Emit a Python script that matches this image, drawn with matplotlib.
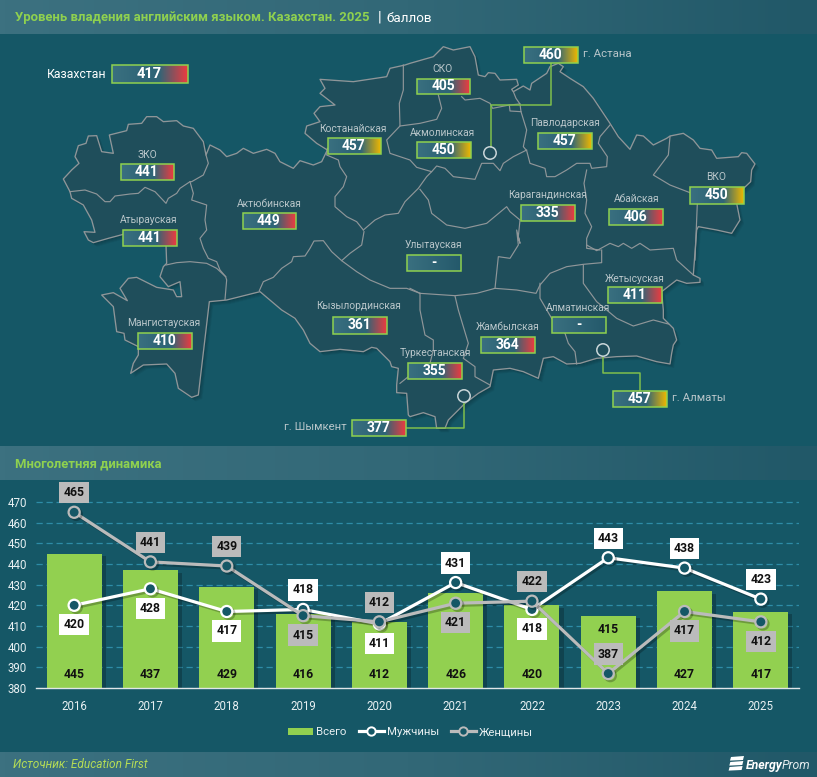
import numpy as np
import matplotlib
matplotlib.use('Agg')
import matplotlib.pyplot as plt
from matplotlib.colors import LinearSegmentedColormap
from matplotlib.patches import Polygon, Rectangle, Circle
from matplotlib.lines import Line2D
import matplotlib.patheffects as pe

plt.rcParams['font.family'] = ['Roboto', 'DejaVu Sans']

# ---------- data ----------
years = [2016, 2017, 2018, 2019, 2020, 2021, 2022, 2023, 2024, 2025]
total = [445, 437, 429, 416, 412, 426, 420, 415, 427, 417]
men = [420, 428, 417, 418, 411, 431, 418, 443, 438, 423]
women = [465, 441, 439, 415, 412, 421, 422, 387, 417, 412]
men_side = [-1, -1, -1, 1, -1, 1, -1, 1, 1, 1]
women_side = [1, 1, 1, -1, 1, -1, 1, 1, -1, -1]

region_names = ['ЗКО', 'Костанайская', 'Актюбинская', 'Атырауская', 'СКО', 'Акмолинская', 'Павлодарская', 'ВКО',
                'Абайская', 'Карагандинская', 'Улытауская', 'Мангистауская', 'Кызылординская', 'Туркестанская',
                'Жамбылская', 'Алматинская', 'Жетысуская']
region_values = ['441', '457', '449', '441', '405', '450', '457', '450',
                 '406', '335', '-', '410', '361', '355', '364', '-', '411']
city_names = ['г. Астана', 'г. Алматы', 'г. Шымкент']
city_values = ['460', '457', '377']
country_name = 'Казахстан'
country_value = '417'

def z(x0, y0, pts):
    return [(x0 + a / 3, y0 + b / 3) for a, b in pts]

outer = (
    z(0, 0, [(190,537),(215,510),(237,490),(225,470),(235,437),(258,430),(265,408),(290,407),(305,455),(340,460),(328,405),
             (380,392),(385,373),(425,370),(440,350),(470,350),(490,365),(530,362),(550,378),(580,385),(610,425),(618,465),
             (630,435),(660,450),(680,470),(710,460),(730,445),(760,460),(800,448),(825,460),(840,485),(880,505),(900,482),
             (940,495),(965,485),(982,450),(950,430),(915,400),(920,378),(960,365),(942,340),(960,320),(1005,315),(960,280),
             (975,265),(960,238),(1060,245),(1160,230),(1170,205),(1215,195)])
    + z(410, 30, [(0,100),(70,80),(100,50),(130,60),(180,50),(195,80),(205,135),(225,140),(235,128),(255,130),(270,150),
                  (320,148),(325,165),(305,178),(310,185),(340,168),(360,180),(365,160),(410,130),(420,110),(445,100),(460,110),
                  (450,125),(480,145),(520,170),(550,205),(600,280),(625,320),(660,358),(680,315),(700,318),(730,345),(770,325),
                  (780,318),(820,310),(850,330),(870,355),(905,360),(920,385),(985,380),(995,368),(1010,370),(1035,402),(1025,420),
                  (1022,455),(985,490),(980,520),(990,570),(965,610),(920,600),(865,590)])
    + z(410, 230, [(860,0),(850,135),(870,145),(870,157),(830,160),(800,150),(755,185),(760,240),(760,265),(775,280),(790,295),
                   (800,330),(790,345),(785,370),(780,402),(740,395),(680,378),(620,380),(560,385),(510,400),(470,402),(430,380),
                   (400,385),(385,445),(340,425),(300,415),(250,420),(240,470),(205,490),(165,520),(115,570),(105,595),(80,595),
                   (75,560),(40,548),(0,560)])
    + z(0, 230, [(1225,555),(1220,490),(1190,488),(1190,465),(1195,415),(1175,410),(1170,395),(1130,355),(1115,352),(1090,365),
                 (1020,358),(960,365),(930,340),(910,300),(885,265),(845,240),(780,185),(680,210),(628,215),(595,495),(575,502),
                 (535,475),(525,430),(500,402),(430,405),(392,430),(400,400),(415,375),(415,350),(375,330),(372,310),(350,305),
                 (340,230),(305,195),(340,188),(382,212),(360,175),(385,145),(410,142),(470,172),(520,180),(530,200),(545,200),
                 (540,155),(505,170),(480,140),(490,110),(500,100)])
    + z(60, 170, [(318,225),(190,193),(145,205),(100,218),(85,210),(72,185),(105,187),(95,150),(70,105),(35,85),(30,65)])
)

borders = [
    z(60,170,[(30,65),(75,60),(110,72),(135,95),(150,95),(165,78),(210,72),(235,70),(255,52),(285,65),(318,100),(325,85),(350,70),(360,55),(390,35)]) + z(0,0,[(575,545),(610,525),(625,490),(618,465)]),
    z(60,170,[(390,35),(400,70),(395,90),(440,105),(435,150),(440,180),(420,205),(430,235),(445,265),(470,275),(480,300),(497,320)]) + z(190,200,[(110,240),(105,298)]),
    z(60,170,[(318,285),(350,278),(390,275),(440,280),(470,295),(497,320)]),
    z(310,60,[(52,265),(50,285),(85,300),(90,320),(110,350),(100,380),(75,410),(75,440),(110,470),(140,485),(160,510)]),
    z(190,200,[(208,272),(220,245),(250,232),(275,205),(305,185),(310,170),(345,168),(360,145),(372,123),(400,122),(425,155),(455,182),(480,160),(515,135),(522,95)]),
    z(310,60,[(160,510),(195,480),(225,465),(265,460),(285,425),(325,385),(350,350),(365,335),(320,322),(300,300),(240,280),(230,240),(270,198),(268,130),(280,90),(280,15)]),
    z(310,60,[(270,198),(330,190),(380,178),(395,145),(385,105)]),
    z(410,30,[(155,200),(165,210),(210,205),(240,220),(248,235),(298,225),(330,222),(318,205),(310,185)]),
    z(410,30,[(298,225),(300,243),(333,245),(330,222)]),
    z(410,30,[(333,245),(350,300),(340,350),(350,362),(360,400),(405,415),(410,440),(435,440),(470,420),(500,400),(540,400),(545,415),(590,410),(592,380),(565,340),(570,320),(600,285)]),
    z(310,60,[(650,270),(610,290),(580,310),(570,332),(550,310),(515,310),(495,358),(430,350),(405,325),(380,318),(365,335)]),
    z(410,30,[(530,420),(522,460),(530,510),(525,550),(545,590),(530,625),(530,655),(570,660)]),
    z(410,230,[(530,45),(560,62),(600,40),(625,50),(640,40),(665,55),(690,40),(720,60),(790,55),(800,90),(850,135)]),
    z(410,230,[(575,60),(575,98),(520,103),(470,110),(420,130),(390,165),(378,190),(320,180),(255,175),(200,190),(135,197),(30,190),(0,175)]),
    z(410,230,[(255,175),(265,80),(300,85),(325,45),(320,0)]) + z(410,30,[(330,640),(325,620),(330,570),(300,545),(290,530),(230,580),(165,595),(110,585),(65,550),(55,510),(30,478)]),
    z(190,200,[(455,182),(500,215),(540,240),(600,265),(650,265),(690,280)]),
    z(400,220,[(165,228),(175,270),(205,370),(190,415),(225,440),(225,470),(270,495)]),
    z(400,220,[(60,220),(60,270),(75,345),(100,360),(100,390),(90,430)]),
    z(400,220,[(25,470),(0,490)]),
    z(400,220,[(420,190),(420,235),(455,295),(495,340),(505,370),(525,395),(530,432)]),
    z(400,220,[(550,135),(550,190),(590,245),(650,295),(700,318),(760,300)]) + z(410,230,[(775,282)]),
    z(410,30,[(780,320),(775,375),(730,435),(780,465),(840,488),(862,520),(855,690)]),
]

# ---------- figure ----------
W, H = 817, 777
SEA = '#155766'
GREEN = '#8FD14F'
fig = plt.figure(figsize=(W / 100, H / 100), dpi=100, facecolor=SEA)
ov = fig.add_axes([0, 0, 1, 1], zorder=0)
ov.set_axis_off()

def hgrad(x0, x1, y0, y1, cols, stops=None, zorder=1):
    if stops is None:
        cm = LinearSegmentedColormap.from_list('g', cols)
    else:
        cm = LinearSegmentedColormap.from_list('g', list(zip(stops, cols)))
    ov.imshow(np.linspace(0, 1, 256).reshape(1, -1), extent=(x0, x1, y1, y0), aspect='auto', cmap=cm,
              zorder=zorder, interpolation='bilinear')

# panels
panel = ['#3C7180', '#326877', '#215868']
hgrad(0, W, 0, 34, panel)
hgrad(0, W, 446, 480, panel)
hgrad(0, W, 752, H, panel)

# map
for k in range(1, 6):
    ov.add_patch(Polygon(np.array(outer) + k * 0.8, closed=True, fc='black', ec='none', alpha=0.05, zorder=2))
ov.add_patch(Polygon(outer, closed=True, fc='#1F4E5B', ec='#8F9699', lw=0.95, zorder=3, joinstyle='round'))
for b in borders:
    ov.plot(*zip(*b), color='#8F9699', lw=0.85, zorder=4, solid_joinstyle='round')

# connectors
for path in ([(551, 63), (551, 105), (491, 105), (491, 147)],
             [(603, 357), (603, 373), (640, 373), (640, 391)],
             [(464, 403), (464, 428), (406, 428)]):
    ov.plot(*zip(*path), color='#7FBF4C', lw=1.1, zorder=5)
for c in [(490, 153), (603, 350), (464, 396)]:
    ov.add_patch(Circle(c, 6.2, fc='none', ec='#C9D6D9', lw=1.1, zorder=5))

# badges
RED = '#EF3B3F'
YEL = '#F0B800'
def badge(x0, y0, w, h, val, fs=10):
    if val == '-':
        cols, st = ['#3A7080', '#24596B'], [0, 1]
    else:
        end = YEL if int(val) >= 450 else RED
        cols, st = ['#3A7080', '#2F6577', '#2F6577', end], [0, 0.42, 0.62, 1]
    hgrad(x0, x0 + w, y0, y0 + h, cols, st, zorder=6)
    ov.add_patch(Rectangle((x0, y0), w, h, fc='none', ec=GREEN, lw=1.1, zorder=7))
    ov.text(x0 + w / 2 - 0.5, y0 + h / 2 - 0.3, val, color='white', fontsize=fs, fontweight='bold',
            ha='center', va='center', zorder=8)

badge_boxes = [(121,164,53,16), (328,138,53,16), (243,213,53,16), (123,230,54,16), (417,79,53,15), (417,142,54,16),
               (538,133,54,16), (690,187,54,17), (609,209,54,16), (521,205,54,16), (407,255,54,16), (138,333,54,16),
               (333,317,54,17), (408,363,54,16), (481,337,54,16), (552,317,54,16), (608,287,54,16)]
label_xy = [(147,155),(353,129),(269,204),(149,220),(443,69),(443,133),(565,123),(716,177),(637,199),(548,195),
            (433,245),(164,323),(359,306),(435,353),(508,327),(578,308),(635,279)]
for name, val, box, xy in zip(region_names, region_values, badge_boxes, label_xy):
    badge(*box, val)
    ov.text(*xy, name, color='#B9C6CA', fontsize=7.4, ha='center', va='center', zorder=8)

city_boxes = [(524,47,54,16), (613,391,54,16), (352,420,54,16)]
city_text = [(583,54,'left'), (672,398,'left'), (347,427,'right')]
for name, val, box, (tx, ty, ha) in zip(city_names, city_values, city_boxes, city_text):
    badge(*box, val)
    ov.text(tx, ty, name, color='#B9C6CA', fontsize=8.2, ha=ha, va='center', zorder=8)

badge(112, 65, 76, 18, country_value, fs=10.5)
ov.text(47, 74, country_name, color='white', fontsize=8.8, ha='left', va='center', zorder=8)

# titles
t = ov.text(15, 18, 'Уровень владения английским языком. Казахстан. 2025', color=GREEN, fontsize=9.45, fontweight='bold',
            va='center', ha='left', zorder=8)
ov.text(380, 17.5, '|', color='white', fontsize=10.5, va='center', ha='center', zorder=8)
ov.text(386, 18, 'баллов', color='white', fontsize=9.6, va='center', ha='left', zorder=8)
ov.text(15, 463.5, 'Многолетняя динамика', color=GREEN, fontsize=9.4, fontweight='bold', va='center', zorder=8)
ov.text(13, 764, 'Источник: Education First', color='#B5DC55', fontsize=8.6, style='italic', va='center', zorder=8)

# logo
for k, dy in enumerate((757, 762, 767)):
    ov.add_patch(Polygon([(731 - k * 0.7, dy), (744 - k * 0.7, dy - 1), (743 - k * 0.7, dy + 3), (730 - k * 0.7, dy + 3.6)],
                         fc='white', ec='none', zorder=8))
ov.text(746, 769, 'Energy', color='white', fontsize=8.8, fontweight='bold', style='italic', va='baseline', zorder=8)
ov.text(782, 769, 'Prom', color='#E4ECEE', fontsize=8.8, style='italic', va='baseline', zorder=8)

ov.set_xlim(0, W)
ov.set_ylim(H, 0)

# ---------- chart ----------
BASE_Y, TOP_Y = 688, 491.6
ax = fig.add_axes([36 / W, 1 - BASE_Y / H, (799 - 36) / W, (BASE_Y - TOP_Y) / H], zorder=2)
ax.patch.set_alpha(0)
x = np.arange(len(years))
shadow = [pe.SimplePatchShadow(offset=(3, -2), alpha=0.22, shadow_rgbFace='black'), pe.Normal()]
bars = ax.bar(x, np.array(total) - 380, bottom=380, width=0.72, color='#92D050', zorder=2, label='Всего')
for b in bars:
    b.set_path_effects(shadow)
ax.set_xlim(-0.5, 9.5)
ax.set_ylim(380, 475)
ax.set_yticks(range(380, 480, 10))
ax.set_xticks(x, years)
ax.tick_params(length=0, colors='#E8F0F2', labelsize=8.3)
ax.tick_params(axis='x', pad=9)
ax.tick_params(axis='y', pad=6.5)
for s in ('top', 'right', 'left'):
    ax.spines[s].set_visible(False)
ax.spines['bottom'].set_color('#E0E6E8')
ax.spines['bottom'].set_linewidth(1)
ax.grid(axis='y', color='#2D8CA6', lw=0.9, ls=(0, (5, 3)), zorder=1)
ax.set_axisbelow(True)

line_fx = [pe.SimpleLineShadow(offset=(1.5, -1.5), alpha=0.25, shadow_color='black'), pe.Normal()]
l_w, = ax.plot(x, women, color='#BBBBBB', lw=2.3, marker='o', ms=8, mfc=SEA, mec='#BBBBBB', mew=1.6, zorder=4,
               path_effects=line_fx)
l_m, = ax.plot(x, men, color='white', lw=2.3, marker='o', ms=8, mfc=SEA, mec='white', mew=1.6, zorder=3,
               path_effects=line_fx)

def lab(xi, v, side, fc):
    ax.annotate(str(v), (xi, v), xytext=(0, side * 14), textcoords='offset points', ha='center', va='center',
                fontsize=8.8, fontweight='bold', color='#111111', zorder=6,
                bbox=dict(boxstyle='square,pad=0.34', fc=fc, ec='none'))
for i in range(len(years)):
    lab(x[i], men[i], men_side[i], 'white')
    lab(x[i], women[i], women_side[i], '#BBBBBB')
    ax.text(x[i], 408.5 if years[i] == 2023 else 386.3, str(total[i]), ha='center', va='center', fontsize=8.8,
            fontweight='bold', color='#111111', zorder=5)

h_bar = Rectangle((0, 0), 1, 1, fc='#92D050')
h_m = Line2D([], [], color='white', lw=2.3, marker='o', ms=6, mfc=SEA, mec='white', mew=1.4)
h_w = Line2D([], [], color='#BBBBBB', lw=2.3, marker='o', ms=6, mfc=SEA, mec='#BBBBBB', mew=1.4)
leg = ax.legend([h_bar, h_m, h_w], ['Всего', 'Мужчины', 'Женщины'], ncol=3, frameon=False, loc='center',
                bbox_to_anchor=(374.5 / 763, -0.225), fontsize=8.2, labelcolor='#E8F0F2',
                handlelength=2.2, handleheight=0.55, columnspacing=1.05, handletextpad=0.25)

fig.savefig('out.png', dpi=100, facecolor=SEA)
